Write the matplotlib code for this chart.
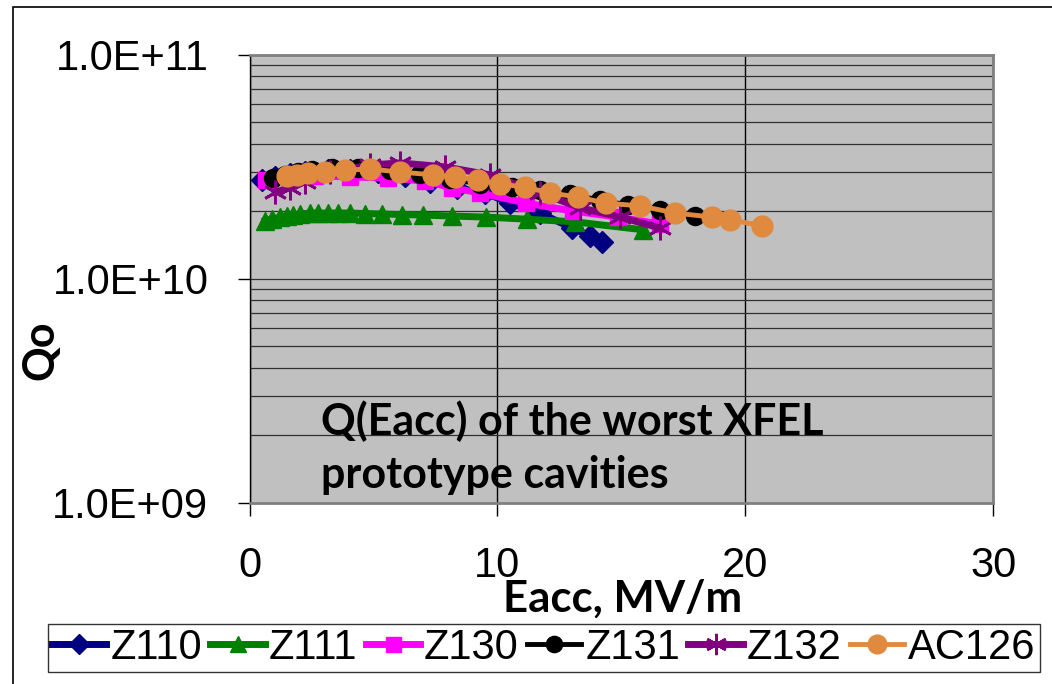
import matplotlib
matplotlib.use("Agg")
import matplotlib.pyplot as plt
from matplotlib.ticker import LogLocator, FixedLocator, NullFormatter
from matplotlib.patches import Rectangle

# ---------------- data ----------------
z110_x = [0.50, 1.03, 1.63, 2.24, 3.17, 4.05, 5.18, 6.27, 7.28, 8.37, 9.50, 10.51, 11.72, 13.01, 13.74, 14.22]
z110_q = [2.76e10, 2.84e10, 2.93e10, 2.99e10, 3.05e10, 3.05e10, 2.99e10, 2.87e10, 2.70e10, 2.54e10, 2.41e10,
          2.17e10, 1.96e10, 1.68e10, 1.55e10, 1.46e10]

z111_x = [0.63, 0.91, 1.23, 1.51, 1.75, 2.04, 2.44, 2.76, 3.17, 3.57, 4.05, 4.66, 5.34, 6.15, 7.00, 8.17,
          9.54, 11.19, 13.13, 15.87]
z111_q = [1.81e10, 1.84e10, 1.88e10, 1.90e10, 1.92e10, 1.94e10, 1.96e10, 1.96e10, 1.96e10, 1.96e10, 1.96e10,
          1.95e10, 1.94e10, 1.93e10, 1.92e10, 1.90e10, 1.88e10, 1.84e10, 1.79e10, 1.65e10]

z130_x = [0.67, 1.63, 2.64, 4.05, 5.59, 7.08, 8.17, 9.30, 11.15, 13.05, 14.86, 16.56]
z130_q = [2.76e10, 2.81e10, 2.87e10, 2.84e10, 2.81e10, 2.72e10, 2.54e10, 2.41e10, 2.17e10, 2.00e10, 1.88e10, 1.75e10]

z131_x = [0.95, 1.43, 1.96, 2.52, 3.33, 4.38, 5.67, 6.88, 8.09, 9.30, 10.59, 11.72, 12.93, 14.14, 15.27, 16.56, 17.97]
z131_q = [2.81e10, 2.90e10, 2.99e10, 3.05e10, 3.11e10, 3.11e10, 3.05e10, 2.93e10, 2.78e10, 2.64e10, 2.56e10,
          2.48e10, 2.38e10, 2.24e10, 2.13e10, 2.02e10, 1.90e10]

z132_x = [1.03, 1.63, 2.24, 3.25, 4.86, 6.07, 7.89, 9.70, 11.72, 13.33, 14.95, 16.56]
z132_q = [2.43e10, 2.54e10, 2.70e10, 2.99e10, 3.21e10, 3.28e10, 3.15e10, 2.90e10, 2.41e10, 2.07e10, 1.88e10, 1.68e10]

ac126_x = [1.51, 1.92, 2.36, 3.05, 3.85, 4.86, 6.07, 7.40, 8.29, 9.22, 10.10, 11.11, 12.12, 13.25, 14.38,
           15.75, 17.16, 18.66, 19.38, 20.67]
ac126_q = [2.87e10, 2.90e10, 2.96e10, 2.99e10, 3.05e10, 3.08e10, 2.99e10, 2.90e10, 2.84e10, 2.75e10, 2.64e10,
           2.56e10, 2.41e10, 2.31e10, 2.17e10, 2.11e10, 1.96e10, 1.88e10, 1.83e10, 1.72e10]

series_names = ["Z110", "Z111", "Z130", "Z131", "Z132", "AC126"]
x_ticks = [0, 10, 20, 30]
y_ticks = [1e9, 1e10, 1e11]
y_tick_labels = ["1.0E+09", "1.0E+10", "1.0E+11"]

# ---------------- figure ----------------
W, H = 1052, 684
fig = plt.figure(figsize=(W / 100, H / 100), dpi=100)
fig.patch.set_facecolor("white")

L, R, T, B = 249.5, 993.3, 54.5, 502.5
ax = fig.add_axes([L / W, 1 - B / H, (R - L) / W, (B - T) / H])
ax.set_facecolor("#C0C0C0")
ax.set_yscale("log")
ax.set_xlim(0, 30)
ax.set_ylim(1e9, 1e11)

arial = "Liberation Sans"
calib = "Lato"

ax.xaxis.set_major_locator(FixedLocator(x_ticks))
ax.yaxis.set_major_locator(FixedLocator(y_ticks))
ax.set_yticklabels(y_tick_labels)
ax.yaxis.set_minor_locator(LogLocator(base=10, subs=[2, 3, 4, 5, 6, 7, 8, 9]))
ax.yaxis.set_minor_formatter(NullFormatter())
ax.tick_params(axis="both", which="major", direction="out", width=1, color="black",
               labelsize=30)
ax.tick_params(axis="x", which="major", length=9.5, pad=22)
ax.tick_params(axis="y", which="major", length=8.6, pad=21)
ax.tick_params(axis="y", which="minor", length=0)
for lbl in ax.get_xticklabels() + ax.get_yticklabels():
    lbl.set_fontfamily(arial)

ax.grid(True, axis="y", which="both", color="#303030", lw=0.9)
ax.grid(True, axis="x", which="major", color="black", lw=1.0)
ax.set_axisbelow(True)

for s in ["top", "right", "bottom"]:
    ax.spines[s].set_color("#808080")
    ax.spines[s].set_linewidth(2)
ax.spines["left"].set_color("black")
ax.spines["left"].set_linewidth(1)

lw = 5
h1, = ax.plot(z110_x, z110_q, color="#000080", lw=lw, marker="D", ms=11, label=series_names[0])
h2, = ax.plot(z111_x, z111_q, color="#008000", lw=lw, marker="^", ms=13, label=series_names[1])
h3, = ax.plot(z130_x, z130_q, color="#FF00FF", lw=lw, marker="s", ms=12, label=series_names[2])
h4, = ax.plot(z131_x, z131_q, color="black", lw=3.5, marker="o", ms=13, label=series_names[3])
h5, = ax.plot(z132_x, z132_q, color="#800080", lw=lw, marker=(6, 2, 0), ms=17, mew=2, label=series_names[4])
h6, = ax.plot(ac126_x, ac126_q, color="#E08A40", lw=3.5, marker="o", ms=15, label=series_names[5])

# text inside plot
fig.text(321 / W, 1 - 435 / H, "Q(Eacc) of the worst XFEL", fontfamily=calib, fontweight="bold",
         fontsize=31, va="baseline", ha="left")
fig.text(321 / W, 1 - 488 / H, "prototype cavities", fontfamily=calib, fontweight="bold",
         fontsize=31, va="baseline", ha="left")

# axis labels
fig.text(623 / W, 1 - 612 / H, "Eacc, MV/m", fontfamily=calib, fontweight="bold",
         fontsize=31.5, va="baseline", ha="center")
fig.text(40 / W, 1 - 350 / H, "Qo", fontfamily=calib, fontweight="bold",
         fontsize=31, va="center", ha="center", rotation=90)

# legend
leg = fig.legend(handles=[h1, h2, h3, h4, h5, h6], loc="center", ncol=6,
                 bbox_to_anchor=(544 / W, 1 - 648 / H),
                 prop={"family": arial, "size": 30},
                 handlelength=1.3, handletextpad=0.1, columnspacing=0.2,
                 borderpad=0.1, borderaxespad=0, frameon=True, fancybox=False,
                 markerscale=0.9)
leg.get_frame().set_edgecolor("black")
leg.get_frame().set_linewidth(1)

# outer chart border
fig.patches.append(Rectangle((12.5 / W, -0.2), 2.0, (H - 6.5) / H + 0.2, transform=fig.transFigure,
                             fill=False, edgecolor="black", lw=1.2))

fig.savefig("out.png", dpi=100)
